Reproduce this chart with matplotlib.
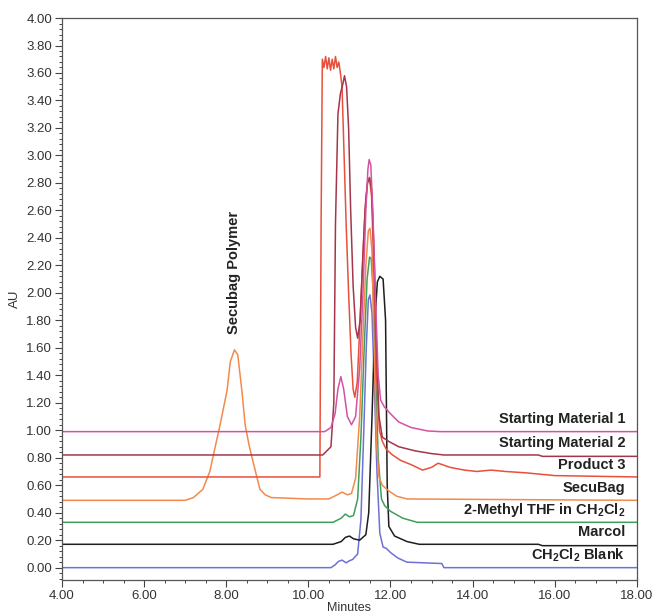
import matplotlib
matplotlib.use("Agg")
import matplotlib.pyplot as plt
from matplotlib.ticker import MultipleLocator, FormatStrFormatter

plt.rcParams['font.family'] = ['Liberation Sans', 'DejaVu Sans']
plt.rcParams['mathtext.fontset'] = 'custom'
plt.rcParams['mathtext.rm'] = 'Liberation Sans:bold'
plt.rcParams['mathtext.bf'] = 'Liberation Sans:bold'
plt.rcParams['mathtext.it'] = 'Liberation Sans:bold'

# ---- data (minutes, AU) ----
series_names = ["Starting Material 1", "Starting Material 2", "Product 3", "SecuBag",
                "2-Methyl THF in CH$_2$Cl$_2$", "Marcol", "CH$_2$Cl$_2$ Blank"]
baselines = [0.99, 0.82, 0.66, 0.49, 0.33, 0.17, 0.00]
colors = ["#d452a2", "#a3364a", "#e8503c", "#f28a4c", "#3f9f5a", "#1e1e1e", "#6e70d4"]

sm1_x = [4.0, 10.4, 10.55, 10.65, 10.72, 10.79, 10.86, 10.95, 11.05, 11.15, 11.25, 11.33,
         11.40, 11.45, 11.48, 11.52, 11.57, 11.63, 11.70, 11.76, 11.85, 12.0, 12.2, 12.5,
         12.9, 13.2, 18.0]
sm1_y = [0.99, 0.99, 1.02, 1.12, 1.30, 1.39, 1.30, 1.10, 1.04, 1.10, 1.45, 2.00,
         2.60, 2.90, 2.97, 2.93, 2.60, 2.00, 1.40, 1.22, 1.17, 1.12, 1.06, 1.02,
         0.995, 0.99, 0.99]

sm2_x = [4.0, 10.35, 10.45, 10.55, 10.62, 10.66, 10.72, 10.78, 10.84, 10.88, 10.93, 10.98,
         11.03, 11.09, 11.15, 11.20, 11.26, 11.32, 11.38, 11.44, 11.49, 11.54, 11.60,
         11.66, 11.72, 11.80, 11.95, 12.2, 12.6, 13.0, 13.3, 15.6, 15.7, 18.0]
sm2_y = [0.82, 0.82, 0.85, 0.88, 1.20, 2.50, 3.30, 3.45, 3.52, 3.58, 3.50, 3.20,
         2.60, 2.05, 1.75, 1.67, 1.80, 2.20, 2.60, 2.80, 2.84, 2.75, 2.30,
         1.60, 1.10, 0.95, 0.92, 0.88, 0.85, 0.83, 0.82, 0.82, 0.81, 0.81]

p3_x = [4.0, 10.28, 10.31, 10.34, 10.38, 10.42, 10.46, 10.50, 10.54, 10.58, 10.62, 10.66,
        10.70, 10.74, 10.78, 10.82, 10.86, 10.92, 10.98, 11.04, 11.09, 11.13, 11.19,
        11.26, 11.33, 11.40, 11.45, 11.49, 11.54, 11.60, 11.66, 11.73, 11.80, 11.90,
        12.05, 12.25, 12.5, 12.78, 13.0, 13.16, 13.45, 13.8, 14.1, 14.45, 14.8, 15.3,
        16.0, 17.0, 18.0]
p3_y = [0.66, 0.66, 2.50, 3.70, 3.64, 3.72, 3.63, 3.71, 3.62, 3.70, 3.63, 3.72,
        3.64, 3.68, 3.60, 3.50, 3.10, 2.50, 2.00, 1.55, 1.30, 1.24, 1.35,
        1.80, 2.30, 2.70, 2.82, 2.83, 2.70, 2.10, 1.40, 1.00, 0.92, 0.86,
        0.82, 0.78, 0.75, 0.71, 0.73, 0.76, 0.73, 0.71, 0.70, 0.71, 0.70, 0.69,
        0.67, 0.665, 0.66]

bag_x = [4.0, 7.0, 7.2, 7.43, 7.6, 7.68, 7.85, 8.02, 8.1, 8.2, 8.28, 8.38, 8.46, 8.55,
         8.62, 8.82, 8.95, 9.1, 10.0, 10.5, 10.7, 10.82, 10.95, 11.05, 11.15, 11.25,
         11.33, 11.40, 11.46, 11.50, 11.55, 11.60, 11.66, 11.72, 11.80, 11.95, 12.15,
         12.4, 18.0]
bag_y = [0.49, 0.49, 0.51, 0.57, 0.70, 0.81, 1.04, 1.29, 1.50, 1.585, 1.55, 1.29, 1.04, 0.90,
         0.81, 0.57, 0.53, 0.51, 0.50, 0.50, 0.53, 0.55, 0.53, 0.54, 0.65, 1.10,
         1.70, 2.20, 2.45, 2.47, 2.30, 1.60, 0.90, 0.66, 0.60, 0.56, 0.52,
         0.50, 0.49]

methf_x = [4.0, 10.6, 10.8, 10.9, 11.0, 11.1, 11.2, 11.28, 11.36, 11.43, 11.49, 11.53, 11.58,
           11.64, 11.70, 11.78, 11.86, 12.0, 12.3, 12.65, 18.0]
methf_y = [0.33, 0.33, 0.36, 0.39, 0.37, 0.38, 0.50, 0.95, 1.60, 2.10, 2.26, 2.25, 2.00,
           1.40, 0.80, 0.50, 0.45, 0.41, 0.36, 0.33, 0.33]

marcol_x = [4.0, 10.6, 10.8, 10.9, 11.0, 11.1, 11.25, 11.40, 11.47, 11.55, 11.62, 11.68,
            11.74, 11.82, 11.88, 11.92, 11.96, 12.1, 12.4, 12.7, 15.6, 15.7, 18.0]
marcol_y = [0.17, 0.17, 0.19, 0.22, 0.23, 0.21, 0.20, 0.24, 0.40, 1.10, 1.80, 2.08,
            2.12, 2.10, 1.80, 0.60, 0.30, 0.23, 0.19, 0.17, 0.17, 0.16, 0.16]

blank_x = [4.0, 10.55, 10.65, 10.73, 10.82, 10.92, 11.0, 11.08, 11.2, 11.28, 11.35, 11.41,
           11.46, 11.50, 11.55, 11.61, 11.67, 11.74, 11.82, 11.9, 12.0, 12.18, 12.4,
           13.25, 13.3, 18.0]
blank_y = [0.0, 0.0, 0.02, 0.045, 0.055, 0.035, 0.05, 0.06, 0.10, 0.35, 1.00, 1.60,
           1.95, 1.985, 1.85, 1.30, 0.70, 0.25, 0.15, 0.14, 0.11, 0.07, 0.04,
           0.03, 0.0, 0.0]

traces_x = [sm1_x, sm2_x, p3_x, bag_x, methf_x, marcol_x, blank_x]
traces_y = [sm1_y, sm2_y, p3_y, bag_y, methf_y, marcol_y, blank_y]

polymer_label = "Secubag Polymer"
polymer_x = 8.2
polymer_y = 2.15

x_ticks = [4, 6, 8, 10, 12, 14, 16, 18]

# ---- figure ----
fig = plt.figure(figsize=(6.54, 6.13), dpi=100)
ax = fig.add_axes([0.0948, 0.0538, 0.879, 0.9168])

for xs, ys, c in zip(reversed(traces_x), reversed(traces_y), reversed(colors)):
    ax.plot(xs, ys, color=c, lw=1.1)

for name, b in zip(series_names, baselines):
    ax.text(17.72, b + 0.09, name, ha='right', va='center', fontsize=10.5,
            fontweight='bold', color='#222222')

ax.text(polymer_x, polymer_y, polymer_label, rotation=90, ha='center', va='center',
        fontsize=10.5, fontweight='bold', color='#222222')

ax.set_xlim(4, 18)
ax.set_ylim(-0.09, 4.0)
ax.set_xticks(x_ticks)
ax.xaxis.set_minor_locator(MultipleLocator(0.5))
ax.yaxis.set_major_locator(MultipleLocator(0.2))
ax.yaxis.set_minor_locator(MultipleLocator(0.04))
ax.xaxis.set_major_formatter(FormatStrFormatter('%.2f'))
ax.yaxis.set_major_formatter(FormatStrFormatter('%.2f'))
ax.tick_params(axis='both', which='major', length=5, width=0.8, labelsize=9.5,
               colors='#444444', labelcolor='#333333', direction='out', pad=2)
ax.tick_params(axis='both', which='minor', length=2.5, width=0.7, colors='#444444',
               direction='out')
for s in ax.spines.values():
    s.set_color('#555555')
    s.set_linewidth(0.9)

ax.set_ylabel("AU", fontsize=9.5, color='#333333', labelpad=4)
ax.set_xlabel("Minutes", fontsize=9, color='#333333', labelpad=0)

fig.savefig("out.png", dpi=100)
